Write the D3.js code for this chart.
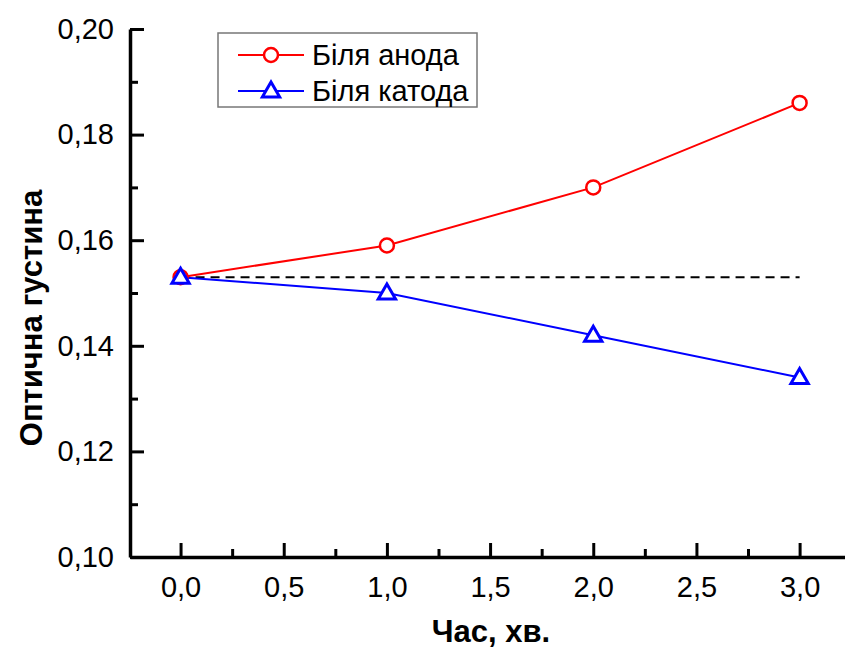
<!DOCTYPE html>
<html>
  <head>
    <meta charset="utf-8">
    <style>
      body {
        margin: 0;
        background: #fff;
        font-family: "Liberation Sans", Arial, sans-serif;
      }
      .axis path, .axis line {
        stroke: #000;
      }
      .axis text {
        fill: #000;
        font-size: 29px;
        font-family: "Liberation Sans", Arial, sans-serif;
      }
      .anode-line {
        fill: none;
        stroke: #ff0000;
        stroke-width: 2px;
      }
      .cathode-line {
        fill: none;
        stroke: #0000ff;
        stroke-width: 2px;
      }
      .ref-line {
        stroke: #000;
        stroke-width: 2px;
        stroke-dasharray: 9 6;
      }
      .title {
        font-weight: bold;
        font-size: 31px;
      }
    </style>
  </head>
  <body>
    <script src="https://d3js.org/d3.v7.min.js"></script>
    <script>
      // data
      var times = [0, 1, 2, 3];
      var anode = [0.153, 0.159, 0.170, 0.186];
      var cathode = [0.153, 0.150, 0.142, 0.134];
      var baseline = 0.153;
      var xTicks = [0, 0.5, 1, 1.5, 2, 2.5, 3];
      var xMinor = [0.25, 0.75, 1.25, 1.75, 2.25, 2.75];
      var yTicks = [0.10, 0.12, 0.14, 0.16, 0.18, 0.20];
      var yMinor = [0.11, 0.13, 0.15, 0.17, 0.19];
      var legendNames = ["Біля анода", "Біля катода"];

      var width = 845, height = 650;
      var svg = d3.select("body").append("svg")
        .attr("width", width)
        .attr("height", height);

      var x = d3.scaleLinear().domain([-0.245, 3.22]).range([130, 845]);
      var y = d3.scaleLinear().domain([0.10, 0.20]).range([557, 29]);

      var fmt = function(d) { return d3.format(".1f")(d).replace(".", ","); };
      var fmtY = function(d) { return d3.format(".2f")(d).replace(".", ","); };

      // minor ticks first, then the major axes on top
      svg.append("g")
        .attr("class", "axis")
        .attr("transform", "translate(0," + y(0.10) + ")")
        .call(d3.axisBottom(x).tickValues(xMinor).tickSize(-8).tickFormat(""))
        .call(g => g.select(".domain").remove())
        .selectAll("line").attr("stroke-width", 3);

      svg.append("g")
        .attr("class", "axis")
        .attr("transform", "translate(" + x(-0.245) + ",0)")
        .call(d3.axisLeft(y).tickValues(yMinor).tickSize(-8).tickFormat(""))
        .call(g => g.select(".domain").remove())
        .selectAll("line").attr("stroke-width", 3);

      var xAxis = svg.append("g")
        .attr("class", "axis")
        .attr("transform", "translate(0," + y(0.10) + ")")
        .call(d3.axisBottom(x).tickValues(xTicks).tickSize(-14).tickSizeOuter(0)
          .tickPadding(19).tickFormat(fmt));
      xAxis.select(".domain").attr("stroke-width", 3.5);
      xAxis.selectAll("line").attr("stroke-width", 3);

      var yAxis = svg.append("g")
        .attr("class", "axis")
        .attr("transform", "translate(" + x(-0.245) + ",0)")
        .call(d3.axisLeft(y).tickValues(yTicks).tickSize(-14).tickSizeOuter(0)
          .tickPadding(16).tickFormat(fmtY));
      yAxis.select(".domain").attr("stroke-width", 3.5);
      yAxis.selectAll("line").attr("stroke-width", 3);

      // dashed reference level
      svg.append("line")
        .attr("class", "ref-line")
        .attr("x1", x(times[0]))
        .attr("x2", x(times[times.length - 1]))
        .attr("y1", y(baseline))
        .attr("y2", y(baseline));

      var line = d3.line()
        .x((d, i) => x(times[i]))
        .y(d => y(d));

      svg.append("path").attr("class", "anode-line").datum(anode).attr("d", line);
      svg.append("path").attr("class", "cathode-line").datum(cathode).attr("d", line);

      var tri = d3.symbol().type(d3.symbolTriangle).size(130);

      svg.selectAll(".anode-pt")
        .data(anode).enter().append("circle")
        .attr("class", "anode-pt")
        .attr("cx", (d, i) => x(times[i]))
        .attr("cy", d => y(d))
        .attr("r", 7)
        .attr("fill", "#fff")
        .attr("stroke", "#ff0000")
        .attr("stroke-width", 2.5);

      svg.selectAll(".cathode-pt")
        .data(cathode).enter().append("path")
        .attr("class", "cathode-pt")
        .attr("transform", (d, i) => "translate(" + x(times[i]) + "," + (y(d) + 1) + ")")
        .attr("d", tri)
        .attr("fill", "#fff")
        .attr("stroke", "#0000ff")
        .attr("stroke-width", 3);

      // legend
      var legend = svg.append("g");
      legend.append("rect")
        .attr("x", 218).attr("y", 33)
        .attr("width", 259).attr("height", 74)
        .attr("fill", "#fff")
        .attr("stroke", "#777")
        .attr("stroke-width", 1.5);

      var colors = ["#ff0000", "#0000ff"];
      legendNames.forEach(function(name, i) {
        var ly = 55 + i * 36;
        var row = legend.append("g");
        row.append("line")
          .attr("x1", 238).attr("x2", 304)
          .attr("y1", ly).attr("y2", ly)
          .attr("stroke", colors[i]).attr("stroke-width", 2);
        if (i === 0) {
          row.append("circle")
            .attr("cx", 271).attr("cy", ly).attr("r", 7)
            .attr("fill", "#fff").attr("stroke", colors[i]).attr("stroke-width", 2.5);
        } else {
          row.append("path")
            .attr("transform", "translate(271," + (ly + 1) + ")")
            .attr("d", tri)
            .attr("fill", "#fff").attr("stroke", colors[i]).attr("stroke-width", 3);
        }
        row.append("text")
          .attr("x", 312).attr("y", ly + 10)
          .attr("font-size", 29)
          .text(name);
      });

      // axis titles
      svg.append("text")
        .attr("class", "title")
        .attr("x", 491).attr("y", 642)
        .attr("text-anchor", "middle")
        .text("Час, хв.");

      svg.append("text")
        .attr("class", "title")
        .attr("transform", "translate(42,318) rotate(-90)")
        .attr("text-anchor", "middle")
        .text("Оптична густина");
    </script>
  </body>
</html>
